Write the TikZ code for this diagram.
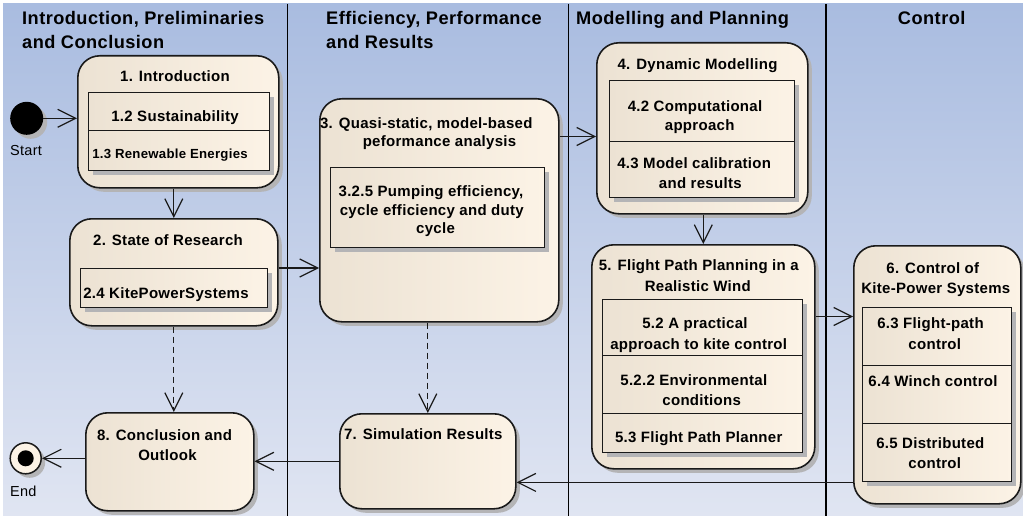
\documentclass[tikz,border=0pt]{standalone}
\usepackage{fontspec}
\setmainfont{Liberation Sans}
\newfontfamily\nodefam{Liberation Sans}[LetterSpace=2]
\newfontfamily\headfam{Liberation Sans}[LetterSpace=2.5]
\usetikzlibrary{arrows.meta,shadows}
\definecolor{laneTop}{HTML}{A9BCE0}
\definecolor{laneBot}{HTML}{E0E5F2}
\definecolor{nodeL}{HTML}{ECE2D3}
\definecolor{nodeR}{HTML}{FCF3E6}
\definecolor{shadowgray}{HTML}{B4B4B6}
\definecolor{edgecol}{HTML}{1A1A1A}
\begin{document}
\begin{tikzpicture}[x=1pt,y=-1pt,
  shad/.style={drop shadow={shadow xshift=4pt,shadow yshift=-4pt,fill=shadowgray,opacity=1}},
  box/.style={draw=edgecol,line width=1.6pt,rounded corners=22pt,left color=nodeL,right color=nodeR,shad,inner sep=0pt,anchor=north west},
  comp/.style={draw=edgecol,line width=1.4pt,left color=nodeL,right color=nodeR,shad,inner sep=0pt,anchor=north west},
  txt/.style={inner sep=0pt,anchor=base,font=\nodefam\bfseries\fontsize{15}{18}\selectfont},
  smalltxt/.style={txt,font=\nodefam\bfseries\fontsize{13.2}{15}\selectfont},
  head/.style={inner sep=0pt,anchor=base west,font=\headfam\bfseries\fontsize{18.2}{22}\selectfont},
  plain/.style={inner sep=0pt,anchor=base west,font=\nodefam\fontsize{14.5}{17}\selectfont},
  arr/.style={draw=edgecol,line width=1.2pt,-{Straight Barb[length=18pt,width=18pt]}},
  darr/.style={arr,dash pattern=on 6pt off 4pt}]
% background and lanes
\fill[white] (0,0) rectangle (1023,516);
\useasboundingbox (0,0) rectangle (1023,516);
\shade[top color=laneTop,bottom color=laneBot] (3,4) rectangle (1023,516);
\draw[line width=1.2pt,black] (287.5,4) -- (287.5,516);
\draw[line width=1.2pt,black] (568.5,4) -- (568.5,516);
\draw[line width=1.2pt,black] (826,4) -- (826,516);
% lane headers
\node[head] (h1a) at (22,25) {Introduction, Preliminaries};
\node[head] (h1b) at (22,48.3) {and Conclusion};
\node[head] (h2a) at (326,25) {Efficiency, Performance};
\node[head] (h2b) at (326,48.3) {and Results};
\node[head] (h3) at (576,25) {Modelling and Planning};
\node[head,anchor=base] (h4) at (931.7,25) {Control};
% start / end
\node[circle,fill=black,minimum size=33pt,inner sep=0pt,shad] (start) at (26.7,118.3) {};
\node[plain] (startl) at (10,156) {Start};
\node[circle,draw=edgecol,line width=1.5pt,fill=nodeR,minimum size=31pt,inner sep=0pt,shad] (endc) at (25.7,458.3) {};
\node[circle,fill=black,minimum size=16pt,inner sep=0pt] (enddot) at (endc) {};
\node[plain] (endl) at (10,496.7) {End};
% node 1
\node[box,minimum width=201pt,minimum height=132pt] (n1) at (77,55) {};
\node[comp,minimum width=181pt,minimum height=38pt] (c1a) at (88,92) {};
\node[comp,minimum width=181pt,minimum height=40pt] (c1b) at (88,130) {};
\node[txt] (t1) at (175,81.7) {1. Introduction};
\node[txt] (t12) at (175,121.7) {1.2 Sustainability};
\node[smalltxt] (t13) at (170,158.3) {1.3 Renewable Energies};
% node 2
\node[box,minimum width=208pt,minimum height=107pt] (n2) at (69,218) {};
\node[comp,minimum width=187pt,minimum height=39pt] (c2) at (80,268) {};
\node[txt] (t2) at (168,245) {2. State of Research};
\node[txt] (t24) at (166,298.3) {2.4 KitePowerSystems};
% node 3
\node[box,minimum width=239pt,minimum height=223pt] (n3) at (319,98) {};
\node[comp,minimum width=214pt,minimum height=80pt] (c3) at (330,167) {};
\node[txt] (t3a) at (426.3,128.3) {3. Quasi-static, model-based};
\node[txt] (t3b) at (439.5,146.5) {peformance analysis};
\node[txt] (t325a) at (431,196.7) {3.2.5 Pumping efficiency,};
\node[txt] (t325b) at (431.8,215) {cycle efficiency and duty};
\node[txt] (t325c) at (435.5,233.5) {cycle};
% node 4
\node[box,minimum width=211pt,minimum height=171pt] (n4) at (596,42) {};
\node[comp,minimum width=185pt,minimum height=61pt] (c4a) at (609,80) {};
\node[comp,minimum width=185pt,minimum height=56pt] (c4b) at (609,141) {};
\node[txt] (t4) at (697.5,70) {4. Dynamic Modelling};
\node[txt] (t42a) at (695,111.7) {4.2 Computational};
\node[txt] (t42b) at (699.7,131) {approach};
\node[txt] (t43a) at (694.2,168.3) {4.3 Model calibration};
\node[txt] (t43b) at (700.3,189) {and results};
% node 5
\node[box,minimum width=223pt,minimum height=224pt] (n5) at (591,244) {};
\node[comp,minimum width=200pt,minimum height=56pt] (c5a) at (602,299) {};
\node[comp,minimum width=200pt,minimum height=58pt] (c5b) at (602,355) {};
\node[comp,minimum width=200pt,minimum height=39pt] (c5c) at (602,413) {};
\node[txt] (t5a) at (698.7,270.7) {5. Flight Path Planning in a};
\node[txt] (t5b) at (697.8,291.7) {Realistic Wind};
\node[txt] (t52a) at (695,328.3) {5.2 A practical};
\node[txt] (t52b) at (698.7,349) {approach to kite control};
\node[txt] (t522a) at (693.8,385) {5.2.2 Environmental};
\node[txt] (t522b) at (701.7,405.7) {conditions};
\node[txt] (t53) at (698.7,442.3) {5.3 Flight Path Planner};
% node 6
\node[box,minimum width=167pt,minimum height=258pt] (n6) at (853,245) {};
\node[comp,minimum width=149pt,minimum height=58pt] (c6a) at (862,307) {};
\node[comp,minimum width=149pt,minimum height=58pt] (c6b) at (862,365) {};
\node[comp,minimum width=149pt,minimum height=58pt] (c6c) at (862,423) {};
\node[txt] (t6a) at (932.8,273.3) {6. Control of};
\node[txt] (t6b) at (935.8,293.3) {Kite-Power Systems};
\node[txt] (t63a) at (930.5,328.3) {6.3 Flight-path};
\node[txt] (t63b) at (934.8,349.3) {control};
\node[txt] (t64) at (933,386.7) {6.4 Winch control};
\node[txt] (t65a) at (930.3,448.3) {6.5 Distributed};
\node[txt] (t65b) at (934.8,468.3) {control};
% node 7
\node[box,minimum width=176pt,minimum height=95pt] (n7) at (339,413) {};
\node[txt] (t7) at (423.3,439.3) {7. Simulation Results};
% node 8
\node[box,minimum width=168pt,minimum height=98pt] (n8) at (85,412) {};
\node[txt] (t8a) at (164.5,440) {8. Conclusion and};
\node[txt] (t8b) at (167.5,460) {Outlook};
% junction heights
\coordinate (j34) at (0,136.5);
\coordinate (j56) at (0,316.5);
% connectors
\draw[arr] (start.east) -- (start.east -| n1.west);
\draw[arr] (n1.south -| n2.north) -- (n2.north);
\draw[arr] (c2.north -| n2.east) -- (c2.north -| n3.west);
\draw[darr] (n2.south) -- (n2.south |- n8.north);
\draw[arr] (n3.east |- j34) -- (n4.west |- j34);
\draw[arr] (n4.south -| n5.north) -- (n5.north);
\draw[arr] (n5.east |- j56) -- (n6.west |- j56);
\draw[darr] (n3.south -| n7.north) -- (n7.north);
\draw[arr] (c6c.south -| n6.west) -- (c6c.south -| n7.east);
\draw[arr] (n7.west) -- (n7.west -| n8.east);
\draw[arr] (n8.west |- endc) -- (endc.east);
\end{tikzpicture}
\end{document}
